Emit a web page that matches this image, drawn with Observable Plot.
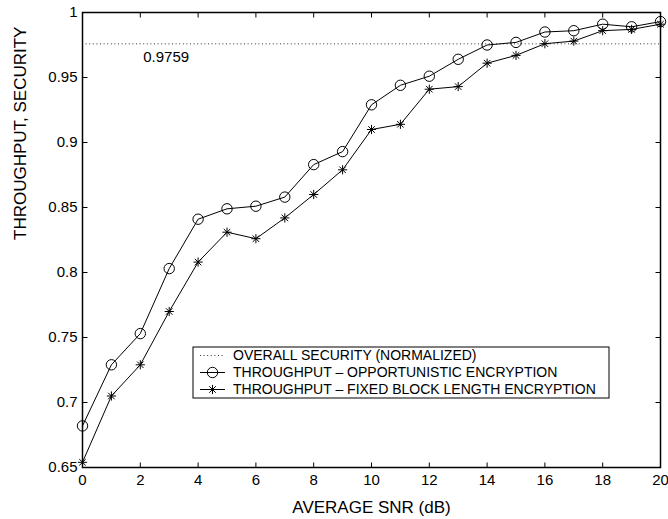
<!DOCTYPE html>
<html>
<head>
<meta charset="utf-8">
<script src="https://cdn.jsdelivr.net/npm/d3@7"></script>
<script src="https://cdn.jsdelivr.net/npm/@observablehq/plot@0.6"></script>
<style>
  html, body { margin: 0; padding: 0; background: white; }
  #chart svg { display: block; }
</style>
</head>
<body>
<div id="chart"></div>
<script>
// ---- data ----
const snr = [0, 1, 2, 3, 4, 5, 6, 7, 8, 9, 10, 11, 12, 13, 14, 15, 16, 17, 18, 19, 20];
const opportunistic = [0.682, 0.729, 0.753, 0.803, 0.841, 0.849, 0.851, 0.858, 0.883, 0.893, 0.929,
                       0.944, 0.951, 0.964, 0.975, 0.977, 0.985, 0.986, 0.991, 0.989, 0.993];
const fixedBlock = [0.654, 0.705, 0.729, 0.770, 0.808, 0.831, 0.826, 0.842, 0.860, 0.879, 0.910,
                    0.914, 0.941, 0.943, 0.961, 0.967, 0.976, 0.978, 0.986, 0.987, 0.991];
const security = [0.9759];
const xTicks = [0, 2, 4, 6, 8, 10, 12, 14, 16, 18, 20];
const yTicks = [0.65, 0.7, 0.75, 0.8, 0.85, 0.9, 0.95, 1];
const xTitle = "AVERAGE SNR (dB)";
const yTitle = "THROUGHPUT, SECURITY";
const legendLabels = [
  "OVERALL SECURITY (NORMALIZED)",
  "THROUGHPUT \u2013 OPPORTUNISTIC ENCRYPTION",
  "THROUGHPUT \u2013 FIXED BLOCK LENGTH ENCRYPTION"
];

const rows = snr.map((x, i) => ({x, opp: opportunistic[i], fix: fixedBlock[i]}));

// 8-armed asterisk (MATLAB '*')
const asterisk = {
  draw(context, size) {
    const r = Math.sqrt(size / Math.PI);
    const d = r * Math.SQRT1_2;
    context.moveTo(-r, 0); context.lineTo(r, 0);
    context.moveTo(0, -r); context.lineTo(0, r);
    context.moveTo(-d, -d); context.lineTo(d, d);
    context.moveTo(-d, d); context.lineTo(d, -d);
  }
};
// inward tick marks as symbols (length 5px)
const TL = 5;
const tickUp = {draw(c) { c.moveTo(0, 0); c.lineTo(0, -TL); }};
const tickDown = {draw(c) { c.moveTo(0, 0); c.lineTo(0, TL); }};
const tickRight = {draw(c) { c.moveTo(0, 0); c.lineTo(TL, 0); }};
const tickLeft = {draw(c) { c.moveTo(0, 0); c.lineTo(-TL, 0); }};

const font = "'Liberation Sans', Arial, Helvetica, sans-serif";

const svg = Plot.plot({
  width: 668,
  height: 519,
  marginLeft: 82,
  marginRight: 8,
  marginTop: 12,
  marginBottom: 52,
  style: {fontFamily: font, fontSize: "15px", color: "black", background: "white"},
  x: {domain: [0, 20]},
  y: {domain: [0.65, 1]},
  marks: [
    Plot.ruleY(security, {x1: 0, x2: 20, y: d => d, stroke: "#333", strokeWidth: 1, strokeDasharray: "1,2.6"}),
    Plot.text(security, {x: 2.1, y: d => d, text: d => String(d), textAnchor: "start", dy: 13, fontSize: 15, fill: "black"}),
    Plot.line(rows, {x: "x", y: "opp", stroke: "black", strokeWidth: 1}),
    Plot.dot(rows, {x: "x", y: "opp", r: 5.2, stroke: "black", fill: "none", strokeWidth: 1}),
    Plot.line(rows, {x: "x", y: "fix", stroke: "black", strokeWidth: 1}),
    Plot.dot(rows, {x: "x", y: "fix", symbol: asterisk, r: 4.6, stroke: "black", strokeWidth: 1}),
    // inward ticks on all four sides
    Plot.dot(xTicks, {x: d => d, frameAnchor: "bottom", symbol: tickUp, stroke: "black", strokeWidth: 1}),
    Plot.dot(xTicks, {x: d => d, frameAnchor: "top", symbol: tickDown, stroke: "black", strokeWidth: 1}),
    Plot.dot(yTicks, {y: d => d, frameAnchor: "left", symbol: tickRight, stroke: "black", strokeWidth: 1}),
    Plot.dot(yTicks, {y: d => d, frameAnchor: "right", symbol: tickLeft, stroke: "black", strokeWidth: 1}),
    // tick labels
    Plot.axisX({anchor: "bottom", ticks: xTicks, tickSize: 0, tickPadding: 7, tickFormat: d => String(d), fontSize: 15, label: null}),
    Plot.axisY({anchor: "left", ticks: yTicks, tickSize: 0, tickPadding: 5, tickFormat: d => String(d), fontSize: 15, label: null}),
    // axis titles
    Plot.text([xTitle], {frameAnchor: "bottom", lineAnchor: "middle", dy: 40, fontSize: 17, fill: "black"}),
    Plot.text([yTitle], {frameAnchor: "left", lineAnchor: "middle", rotate: -90, dx: -62, fontSize: 17, fill: "black"}),
    Plot.frame({stroke: "black", strokeWidth: 1.5})
  ]
});

// legend box (inside the plot area, as in the reference)
const g = d3.select(svg).append("g")
  .attr("font-family", font).attr("font-size", 14).attr("text-anchor", "start");
const lx = 193, ly = 347, lw = 416, lh = 51;
g.append("rect").attr("x", lx).attr("y", ly).attr("width", lw).attr("height", lh)
  .attr("fill", "white").attr("stroke", "black").attr("stroke-width", 1);
const rowY = [355.5, 372.5, 389.5];
legendLabels.forEach((label, i) => {
  const y = rowY[i];
  const line = g.append("line").attr("x1", 200).attr("x2", 225).attr("y1", y).attr("y2", y)
    .attr("stroke", i === 0 ? "#333" : "black").attr("stroke-width", 1);
  if (i === 0) line.attr("stroke-dasharray", "1,2.6");
  if (i === 1) g.append("circle").attr("cx", 212.5).attr("cy", y).attr("r", 5.2)
    .attr("fill", "none").attr("stroke", "black");
  if (i === 2) g.append("path").attr("transform", `translate(212.5,${y})`)
    .attr("d", d3.symbol(asterisk, Math.PI * 4.6 * 4.6)()).attr("stroke", "black").attr("fill", "none");
  g.append("text").attr("x", 233).attr("y", y).attr("dy", "0.35em").attr("fill", "black")
    .attr("text-anchor", "start").text(label);
});

document.getElementById("chart").appendChild(svg);
</script>
</body>
</html>
